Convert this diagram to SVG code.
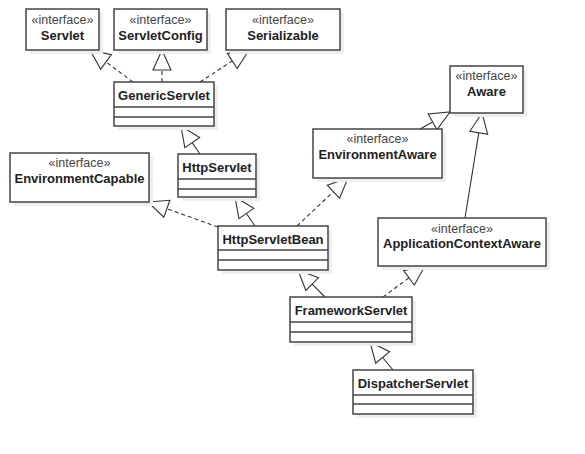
<svg xmlns="http://www.w3.org/2000/svg" width="585" height="454" viewBox="0 0 585 454">
<style>
.sh{fill:#eeeeee;stroke:none}
.box{fill:#fff;stroke:#444;stroke-width:1.5}
.sep{stroke:#444;stroke-width:1.5}
.st{font-family:"Liberation Sans",Arial,sans-serif;font-size:12.5px;fill:#444;text-anchor:middle}
.nm{font-family:"Liberation Sans",Arial,sans-serif;font-size:13px;font-weight:bold;fill:#222;text-anchor:middle}
.c{stroke:#333;stroke-width:1.1;fill:none}
.d{stroke-dasharray:4 3}
.h{fill:#fff;stroke:#333;stroke-width:1.1}
</style>
<rect width="585" height="454" fill="#fff"/>
<g id="connectors">
<line class="c d" x1="133" y1="82" x2="106" y2="61.9"/>
<polygon class="h" points="90,50 111.4,54.7 100.7,69.2"/>
<line class="c d" x1="162" y1="82" x2="162" y2="70"/>
<polygon class="h" points="162,50 171,70 153,70"/>
<line class="c d" x1="200" y1="82" x2="232.3" y2="60.9"/>
<polygon class="h" points="249,50 237.2,68.5 227.3,53.4"/>
<line class="c" x1="200" y1="154" x2="192.2" y2="142.6"/>
<polygon class="h" points="181,126 199.7,137.5 184.8,147.6"/>
<line class="c" x1="255" y1="226" x2="246.4" y2="213.5"/>
<polygon class="h" points="235,197 253.8,208.4 238.9,218.6"/>
<line class="c d" x1="218" y1="227" x2="166.8" y2="208.7"/>
<polygon class="h" points="148,202 169.9,200.3 163.8,217.2"/>
<line class="c d" x1="297" y1="226" x2="333.4" y2="191.7"/>
<polygon class="h" points="348,178 339.6,198.3 327.3,185.2"/>
<line class="c" x1="420" y1="129" x2="432.6" y2="121.9"/>
<polygon class="h" points="450,112 437,129.7 428.2,114"/>
<line class="c" x1="465" y1="218" x2="478.8" y2="132.7"/>
<polygon class="h" points="482,113 487.7,134.2 469.9,131.3"/>
<line class="c" x1="325" y1="297" x2="312.1" y2="284.1"/>
<polygon class="h" points="298,270 318.5,277.8 305.8,290.5"/>
<line class="c d" x1="383" y1="297" x2="408.9" y2="277.9"/>
<polygon class="h" points="425,266 414.3,285.1 403.6,270.6"/>
<line class="c" x1="393" y1="370" x2="382.7" y2="357.5"/>
<polygon class="h" points="370,342 389.6,351.7 375.7,363.2"/>
</g>
<g id="Servlet">
<rect class="sh" x="30" y="13" width="73" height="41"/>
<rect class="box" x="26" y="9" width="73" height="41"/>
<text class="st" x="62.5" y="24">«interface»</text>
<text class="nm" x="62.5" y="40">Servlet</text>
</g>
<g id="ServletConfig">
<rect class="sh" x="118" y="13" width="93" height="41"/>
<rect class="box" x="114" y="9" width="93" height="41"/>
<text class="st" x="160.5" y="24">«interface»</text>
<text class="nm" x="160.5" y="40">ServletConfig</text>
</g>
<g id="Serializable">
<rect class="sh" x="230" y="13" width="114" height="41"/>
<rect class="box" x="226" y="9" width="114" height="41"/>
<text class="st" x="283" y="24">«interface»</text>
<text class="nm" x="283" y="40">Serializable</text>
</g>
<g id="Aware">
<rect class="sh" x="454" y="70" width="73" height="47"/>
<rect class="box" x="450" y="66" width="73" height="47"/>
<text class="st" x="486.5" y="80">«interface»</text>
<text class="nm" x="486.5" y="96">Aware</text>
</g>
<g id="EnvironmentAware">
<rect class="sh" x="317" y="133" width="129" height="49"/>
<rect class="box" x="313" y="129" width="129" height="49"/>
<text class="st" x="377.5" y="143">«interface»</text>
<text class="nm" x="377.5" y="159">EnvironmentAware</text>
</g>
<g id="EnvironmentCapable">
<rect class="sh" x="14" y="157" width="139" height="49"/>
<rect class="box" x="10" y="153" width="139" height="49"/>
<text class="st" x="79.5" y="167">«interface»</text>
<text class="nm" x="79.5" y="183">EnvironmentCapable</text>
</g>
<g id="ApplicationContextAware">
<rect class="sh" x="382" y="222" width="168" height="48"/>
<rect class="box" x="378" y="218" width="168" height="48"/>
<text class="st" x="462" y="233">«interface»</text>
<text class="nm" x="462" y="248">ApplicationContextAware</text>
</g>
<g id="GenericServlet">
<rect class="sh" x="118" y="86" width="100" height="44"/>
<rect class="box" x="114" y="82" width="100" height="44"/>
<line class="sep" x1="114" y1="107" x2="214" y2="107"/>
<line class="sep" x1="114" y1="117" x2="214" y2="117"/>
<text class="nm" x="164" y="100">GenericServlet</text>
</g>
<g id="HttpServlet">
<rect class="sh" x="182" y="158" width="78" height="43"/>
<rect class="box" x="178" y="154" width="78" height="43"/>
<line class="sep" x1="178" y1="179" x2="256" y2="179"/>
<line class="sep" x1="178" y1="189" x2="256" y2="189"/>
<text class="nm" x="217" y="172">HttpServlet</text>
</g>
<g id="HttpServletBean">
<rect class="sh" x="222" y="230" width="110" height="44"/>
<rect class="box" x="218" y="226" width="110" height="44"/>
<line class="sep" x1="218" y1="250" x2="328" y2="250"/>
<line class="sep" x1="218" y1="260" x2="328" y2="260"/>
<text class="nm" x="273" y="244">HttpServletBean</text>
</g>
<g id="FrameworkServlet">
<rect class="sh" x="294" y="301" width="122" height="45"/>
<rect class="box" x="290" y="297" width="122" height="45"/>
<line class="sep" x1="290" y1="322" x2="412" y2="322"/>
<line class="sep" x1="290" y1="332" x2="412" y2="332"/>
<text class="nm" x="351" y="315">FrameworkServlet</text>
</g>
<g id="DispatcherServlet">
<rect class="sh" x="357" y="374" width="120" height="44"/>
<rect class="box" x="353" y="370" width="120" height="44"/>
<line class="sep" x1="353" y1="395" x2="473" y2="395"/>
<line class="sep" x1="353" y1="404" x2="473" y2="404"/>
<text class="nm" x="413" y="388">DispatcherServlet</text>
</g>
</svg>
